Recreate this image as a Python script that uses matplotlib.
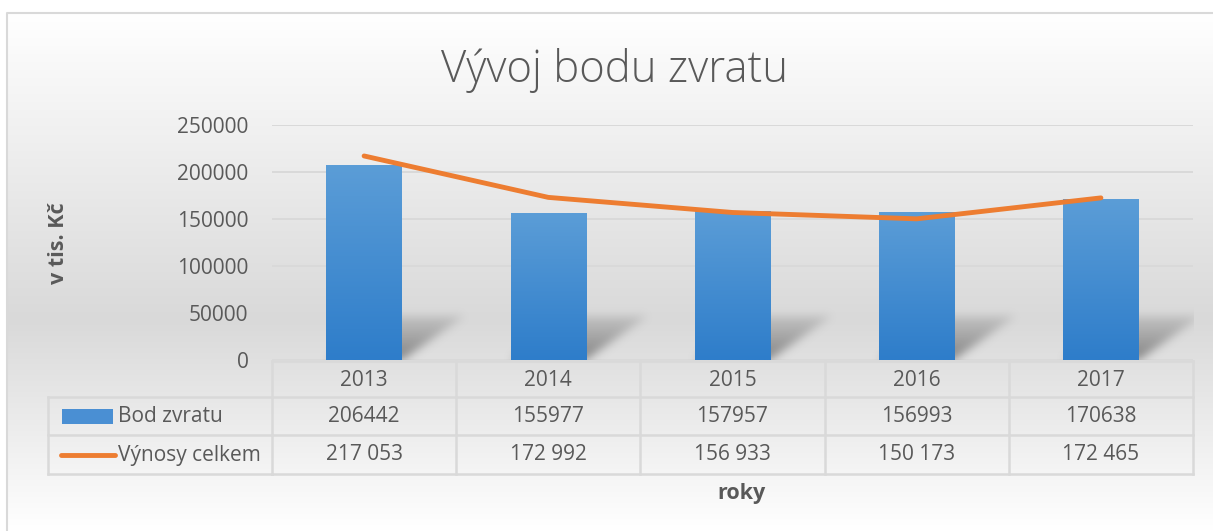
import numpy as np
import matplotlib
matplotlib.use("Agg")
import matplotlib.pyplot as plt
from matplotlib.transforms import blended_transform_factory
from matplotlib.patches import Rectangle
from matplotlib.lines import Line2D

# ---------------- data ----------------
years = ["2013", "2014", "2015", "2016", "2017"]
bod_zvratu = [206442, 155977, 157957, 156993, 170638]
vynosy = [217053, 172992, 156933, 150173, 172465]
bod_labels = ["206442", "155977", "157957", "156993", "170638"]
vynosy_labels = ["217 053", "172 992", "156 933", "150 173", "172 465"]
series_names = ["Bod zvratu", "Výnosy celkem"]
title = "Vývoj bodu zvratu"
y_label = "v tis. Kč"
x_label = "roky"
y_ticks = [0, 50000, 100000, 150000, 200000, 250000]

# ---------------- style ----------------
FONT = "Open Sans"
TXT = "#595959"
GRID = "#d9d9d9"
ORANGE = "#ED7D31"
BLUE_TOP = np.array([91, 157, 215]) / 255
BLUE_BOT = np.array([46, 125, 202]) / 255

W, H, DPI = 1213, 531, 100
fig = plt.figure(figsize=(W / DPI, H / DPI), dpi=DPI)
fig.patch.set_facecolor("white")


def fx(px):
    return px / W


def fy(py):
    return 1 - py / H


# ---------------- background ----------------
bg = fig.add_axes([0, 0, 1, 1], zorder=-10)
bg.set_xlim(0, W)
bg.set_ylim(H, 0)
bg.axis("off")
rows = np.linspace(13, H, 400)
vals = np.interp(rows, [13, 320, H], [255, 217, 255]) / 255
grad = np.repeat(vals[:, None], 2, axis=1)
bg.imshow(np.dstack([grad, grad, grad]), extent=(7, W, H, 13), aspect="auto",
          interpolation="bilinear", origin="upper")
bg.plot([7, 7, W], [H, 13, 13], color=GRID, lw=1.5, solid_capstyle="butt")
bg.set_xlim(0, W)
bg.set_ylim(H, 0)

# ---------------- main axes ----------------
L, R, T, B = 272, 1193, 125, 360
ax = fig.add_axes([fx(L), fy(B), fx(R) - fx(L), fy(T) - fy(B)])
ax.patch.set_alpha(0)
x = np.arange(len(years))
ax.set_xlim(-0.5, len(years) - 0.5)
ax.set_ylim(0, 250000)

px_per_x = (R - L) / len(years)
px_per_y = (B - T) / 250000.0

bars = ax.bar(x, bod_zvratu, width=0.41, color="none", edgecolor="none", zorder=3)

# shadows
def gblur(a, sigma):
    r = int(3 * sigma)
    k = np.exp(-0.5 * (np.arange(-r, r + 1) / sigma) ** 2)
    k /= k.sum()
    a = np.apply_along_axis(lambda m: np.convolve(m, k, mode="same"), 0, a)
    a = np.apply_along_axis(lambda m: np.convolve(m, k, mode="same"), 1, a)
    return a

dx, hh, sig = 62.0, 44.0, 4.5
for rect in bars:
    bx0 = rect.get_x()
    bw_px = rect.get_width() * px_per_x
    pad = 3 * sig + 2
    X = np.arange(-pad, bw_px + dx + pad, 1.0)
    Y = np.arange(-pad, hh + pad, 1.0)
    XX, YY = np.meshgrid(X, Y)
    t = YY / hh
    xs = XX - t * dx
    inside = (YY >= 0) & (YY <= hh) & (xs >= 0) & (xs <= bw_px)
    strength = np.where(inside, 1.0 - 0.75 * t, 0.0)
    strength = gblur(strength, sig)
    img = np.zeros(strength.shape + (4,))
    img[..., :3] = 0.42
    img[..., 3] = np.clip(strength * 0.8, 0, 1)
    ext = (bx0 + X[0] / px_per_x, bx0 + X[-1] / px_per_x,
           Y[0] / px_per_y, Y[-1] / px_per_y)
    ax.imshow(img, extent=ext, origin="lower", aspect="auto",
              interpolation="bilinear", zorder=2)

# gradient bars
for rect in bars:
    n = 100
    tt = np.linspace(0, 1, n)[:, None]
    col = BLUE_BOT[None, :] * (1 - tt) + BLUE_TOP[None, :] * tt
    img = np.repeat(col[:, None, :], 2, axis=1)
    ax.imshow(img, extent=(rect.get_x(), rect.get_x() + rect.get_width(), 0, rect.get_height()),
              origin="lower", aspect="auto", interpolation="bilinear", zorder=3)

ax.plot(x, vynosy, color=ORANGE, lw=3.5, solid_capstyle="round", zorder=5)

ax.set_xlim(-0.5, len(years) - 0.5)
ax.set_ylim(0, 250000)
ax.set_yticks(y_ticks)
ax.set_yticklabels([str(v) for v in y_ticks], fontfamily=FONT, fontsize=15, color=TXT)
ax.tick_params(axis="y", length=0, pad=17)
ax.set_xticks([])
ax.yaxis.grid(True, color=GRID, lw=1.4)
ax.set_axisbelow(True)
for s in ax.spines.values():
    s.set_visible(False)

# ---------------- data table ----------------
tr = blended_transform_factory(ax.transData, fig.transFigure)
row_y = [361, 397, 435, 474]
lkw = dict(color=GRID, lw=1.8, solid_capstyle="projecting")
for yy in row_y:
    fig.add_artist(Line2D([-0.5, len(years) - 0.5], [fy(yy), fy(yy)], transform=tr, **lkw))
for yy in row_y[1:]:
    fig.add_artist(Line2D([fx(48), fx(L)], [fy(yy), fy(yy)], **lkw))
for b in np.arange(len(years) + 1) - 0.5:
    fig.add_artist(Line2D([b, b], [fy(row_y[0]), fy(row_y[-1])], transform=tr, **lkw))
fig.add_artist(Line2D([fx(48), fx(48)], [fy(row_y[1]), fy(row_y[-1])], **lkw))

tkw = dict(fontfamily=FONT, fontsize=15, color=TXT, ha="center", va="center")
for i in range(len(years)):
    fig.text(x[i], fy(380), years[i], transform=tr, **tkw)
    fig.text(x[i], fy(416), bod_labels[i], transform=tr, **tkw)
    fig.text(x[i], fy(455), vynosy_labels[i], transform=tr, **tkw)

# legend keys
fig.add_artist(Rectangle((fx(62), fy(424)), fx(113) - fx(62), fy(409) - fy(424),
                         facecolor="#4A8FD3", edgecolor="none"))
fig.add_artist(Line2D([fx(61), fx(115)], [fy(455), fy(455)], color=ORANGE, lw=3.5,
                      solid_capstyle="round"))
fig.text(fx(118), fy(416), series_names[0], fontfamily=FONT, fontsize=15, color=TXT,
         ha="left", va="center")
fig.text(fx(118), fy(455), series_names[1], fontfamily=FONT, fontsize=15, color=TXT,
         ha="left", va="center")

# ---------------- titles ----------------
fig.text(fx(615), fy(82), title, fontfamily=FONT, fontweight="light", fontsize=31.5,
         color=TXT, ha="center", va="baseline")
fig.text(fx(58), fy(243), y_label, fontfamily=FONT, fontweight="bold", fontsize=15.5,
         color=TXT, ha="center", va="center", rotation=90)
fig.text(fx(741), fy(493), x_label, fontfamily=FONT, fontweight="bold", fontsize=15.5,
         color=TXT, ha="center", va="center")

fig.savefig("out.png", dpi=DPI)
